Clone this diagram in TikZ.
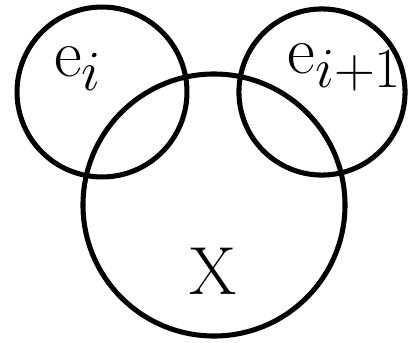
\documentclass[tikz,border=0pt]{standalone}
\usepackage{tikz}
\usetikzlibrary{positioning}

\begin{document}
\begin{tikzpicture}[x=0.366pt,y=-0.366pt,
    ring/.style={draw=black,circle,line width=1.85pt,inner sep=0pt},
    label/.style={font=\Huge,inner sep=0pt}
]
    \useasboundingbox (0,0) rectangle (414,343);

    \node[ring,minimum size=62.2pt] (left) at (102,92) {};
    \node[ring,minimum size=60.8pt] (right) at (322,92) {};
    \node[ring,minimum size=95.9pt] (big) at (214,205) {};

    \node[label] (left-label) at (78,69) {$\mathrm{e}_i$};
    \node[label] (right-label) at (345,68) {$\mathrm{e}_{i+1}$};
    \node[label] (big-label) at (213,271) {X};

\end{tikzpicture}
\end{document}
